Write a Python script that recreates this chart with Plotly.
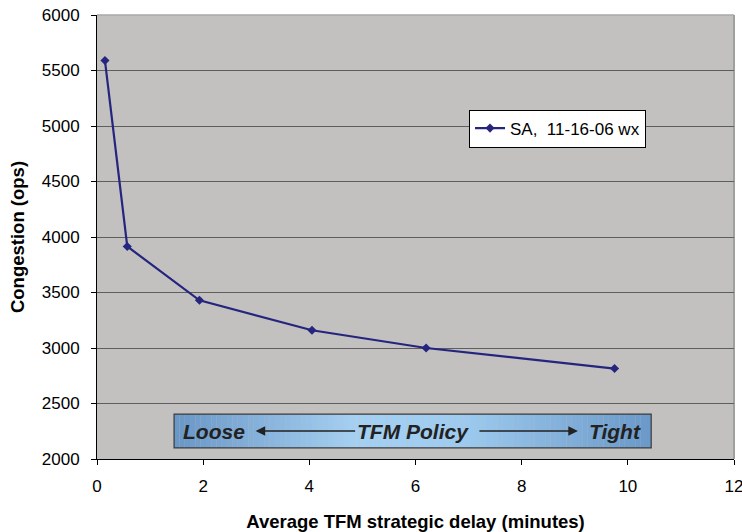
import plotly.graph_objects as go

# ---- data ----
delay_minutes = [0.15, 0.57, 1.93, 4.05, 6.2, 9.75]
congestion_ops = [5590, 3915, 3430, 3160, 3000, 2815]
series_name = "SA,\u00a0 11-16-06 wx"
x_ticks = [0, 2, 4, 6, 8, 10, 12]
y_ticks = [2000, 2500, 3000, 3500, 4000, 4500, 5000, 5500, 6000]

FONT = "Liberation Sans, Arial, sans-serif"
NAVY = "#25257f"

fig = go.Figure()
fig.add_trace(go.Scatter(
    x=delay_minutes, y=congestion_ops, name=series_name,
    mode="lines+markers",
    line=dict(color=NAVY, width=2.2),
    marker=dict(symbol="diamond", size=7, color=NAVY),
    showlegend=True,
))

# gradient box (TFM policy banner) in paper coordinates
bx0, bx1, by0, by1 = 0.121, 0.870, 0.025, 0.101
stops = [(0.0, (106, 150, 198)), (0.38, (165, 208, 242)), (0.6, (158, 203, 239)), (1.0, (106, 152, 200))]

def col(t):
    for (p0, c0), (p1, c1) in zip(stops[:-1], stops[1:]):
        if p0 <= t <= p1:
            f = (t - p0) / (p1 - p0)
            return "rgb(%d,%d,%d)" % tuple(round(a + (b - a) * f) for a, b in zip(c0, c1))
    return "rgb(%d,%d,%d)" % stops[-1][1]

N = 90
shapes = []
for i in range(N):
    xa = bx0 + (bx1 - bx0) * i / N
    xb = bx0 + (bx1 - bx0) * (i + 1.02) / N
    shapes.append(dict(type="rect", xref="paper", yref="paper", x0=xa, x1=min(xb, bx1),
                       y0=by0, y1=by1, fillcolor=col((i + 0.5) / N), line=dict(width=0), layer="above"))
shapes.append(dict(type="rect", xref="paper", yref="paper", x0=bx0, x1=bx1, y0=by0, y1=by1,
                   line=dict(color="#3a3a3a", width=1.2), fillcolor="rgba(0,0,0,0)", layer="above"))
# plot-area border (top and right)
shapes.append(dict(type="line", xref="paper", yref="paper", x0=0, x1=1, y0=1, y1=1,
                   line=dict(color="#a8a8a8", width=1.5), layer="between"))
shapes.append(dict(type="line", xref="paper", yref="paper", x0=1, x1=1, y0=0, y1=1,
                   line=dict(color="#a0a0a0", width=2), layer="between"))

annots = []
ty = 0.063
txt_font = dict(family=FONT, size=21, color="#222222")
for label, xc in [("Loose", 0.184), ("TFM Policy", 0.496), ("Tight", 0.813)]:
    annots.append(dict(xref="paper", yref="paper", x=xc, y=ty, text="<b><i>%s</i></b>" % label,
                       showarrow=False, font=txt_font, xanchor="center", yanchor="middle"))
annots.append(dict(xref="paper", yref="paper", x=0.249, y=ty, ax=101, ay=0, text="",
                   showarrow=True, arrowhead=2, arrowsize=1.2, arrowwidth=1.6, arrowcolor="#222222"))
annots.append(dict(xref="paper", yref="paper", x=0.755, y=ty, ax=-100, ay=0, text="",
                   showarrow=True, arrowhead=2, arrowsize=1.2, arrowwidth=1.6, arrowcolor="#222222"))

fig.update_layout(
    width=742, height=532,
    margin=dict(l=97, r=8, t=15, b=73, autoexpand=False),
    paper_bgcolor="white",
    plot_bgcolor="#c2c1bf",
    font=dict(family=FONT, size=17, color="black"),
    shapes=shapes,
    annotations=annots,
    legend=dict(x=0.584, y=0.787, xanchor="left", yanchor="top",
                bgcolor="white", bordercolor="black", borderwidth=1,
                font=dict(family=FONT, size=17, color="black"),
                itemwidth=30, tracegroupgap=0),
    xaxis=dict(range=[0, 12], tickvals=x_ticks, ticks="outside", ticklen=5, tickcolor="black",
               showline=True, linecolor="black", linewidth=1, showgrid=False, zeroline=False,
               ticklabelstandoff=7, tickfont=dict(size=17), automargin=False, ticklabeloverflow="allow",
               title=dict(text="<b>Average TFM strategic delay (minutes)</b>", font=dict(size=18.5), standoff=20)),
    yaxis=dict(range=[2000, 6000], tickvals=y_ticks, ticks="outside", ticklen=5, tickcolor="black",
               showline=True, linecolor="black", linewidth=1, showgrid=True, gridcolor="#5e5e5e",
               gridwidth=1.3, zeroline=False, ticklabelstandoff=8, tickfont=dict(size=17), automargin=False,
               ticklabeloverflow="allow",
               title=dict(text="<b>Congestion (ops)</b>", font=dict(size=18.5), standoff=12)),
)

fig.write_html("out.html", config={"displayModeBar": False},
               post_script="document.body.style.margin='0';document.body.style.overflow='hidden';")
